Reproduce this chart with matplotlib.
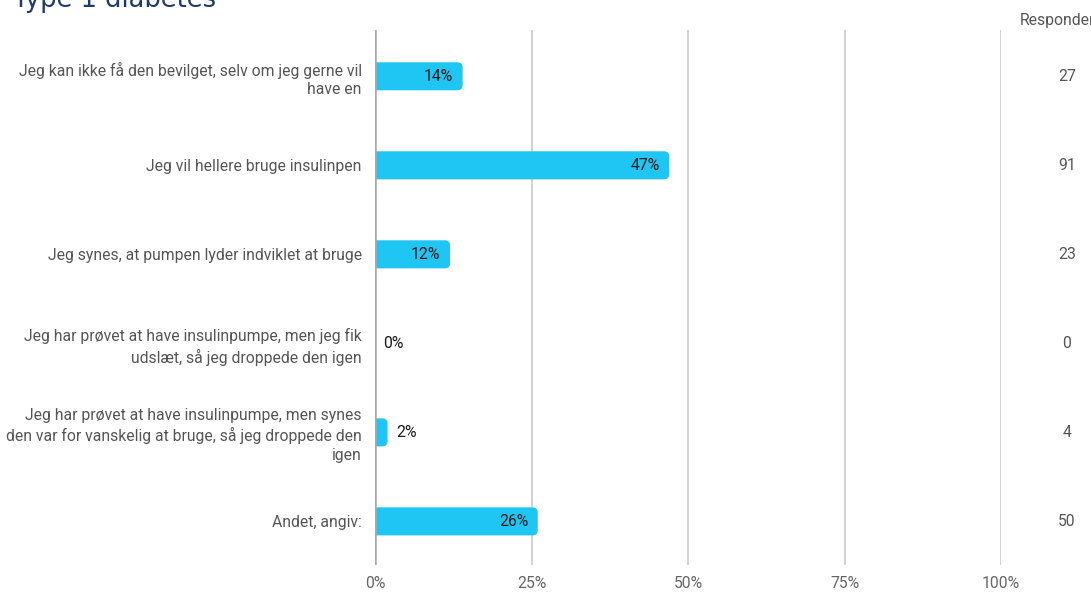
import matplotlib.pyplot as plt
from matplotlib.patches import FancyBboxPatch
from matplotlib.ticker import FixedLocator

categories = [
    "Jeg kan ikke få den bevilget, selv om jeg gerne vil\nhave en",
    "Jeg vil hellere bruge insulinpen",
    "Jeg synes, at pumpen lyder indviklet at bruge",
    "Jeg har prøvet at have insulinpumpe, men jeg fik\nudslæt, så jeg droppede den igen",
    "Jeg har prøvet at have insulinpumpe, men synes\nden var for vanskelig at bruge, så jeg droppede den\nigen",
    "Andet, angiv:",
]
percent = [14, 47, 12, 0, 2, 26]
respondents = [27, 91, 23, 0, 4, 50]
xticks_pct = [0, 25, 50, 75, 100]

W, H = 1091, 592
plt.rcParams['font.family'] = ['Roboto', 'DejaVu Sans']

fig = plt.figure(figsize=(W / 100, H / 100), dpi=100)
ax = fig.add_axes([375 / W, (H - 565) / H, (1001 - 375) / W, (565 - 30) / H])

bar_color = '#1fc5f3'
bar_h = 0.315
ypos = list(range(len(categories)))

# bars with rounded right ends; start left of 0 so the axis clip keeps the left edge square
rx = 0.85
ry = 0.058
for y, v in zip(ypos, percent):
    if v > 0:
        p = FancyBboxPatch((-2, y - bar_h / 2), v + 2, bar_h,
                           boxstyle=f"round,pad=0,rounding_size={rx}",
                           mutation_aspect=ry / rx,
                           facecolor=bar_color, edgecolor='none', zorder=3)
        ax.add_patch(p)

    if v >= 5:
        ax.annotate(f"{v}%", (v, y), xytext=(-7, 0), textcoords='offset points',
                    ha='right', va='center', fontsize=11.3, color='#1a1a1a', zorder=4)
    else:
        ax.annotate(f"{v}%", (v, y), xytext=(6, 0), textcoords='offset points',
                    ha='left', va='center', fontsize=11.3, color='#1a1a1a', zorder=4)

ax.set_xlim(0, 100)
ax.set_ylim(5.49, -0.52)
ax.xaxis.set_major_locator(FixedLocator(xticks_pct))
ax.set_xticklabels([f"{t}%" for t in xticks_pct])
ax.set_yticks(ypos)
ax.set_yticklabels(categories, linespacing=1.3)
ax.tick_params(axis='y', length=0, pad=9.5, labelsize=11.3, labelcolor='#555555')
ax.tick_params(axis='x', length=0, pad=8, labelsize=11.3, labelcolor='#666666')

ax.grid(axis='x', color='#d2d2d2', linewidth=1.4, zorder=0)
ax.axvline(0, color='#a8a8a8', linewidth=1.8, zorder=5)
for s in ax.spines.values():
    s.set_visible(False)

# respondents column on the right
fig.text(1020 / W, 1 - 20 / H, "Respondents", ha='left', va='center',
         fontsize=11.3, color='#555555')
for y, n in zip(ypos, respondents):
    yd = ax.transData.transform((0, y))[1]
    fig.text(1067 / W, yd / H, str(n), ha='center', va='center',
             fontsize=11.3, color='#555555')

fig.text(13 / W, 1 - 7 / H, "Type 1 diabetes", ha='left', va='baseline',
         fontsize=18.5, color='#1f3a6b', family=['Verdana', 'DejaVu Sans'])

fig.savefig('out.png', dpi=100)
